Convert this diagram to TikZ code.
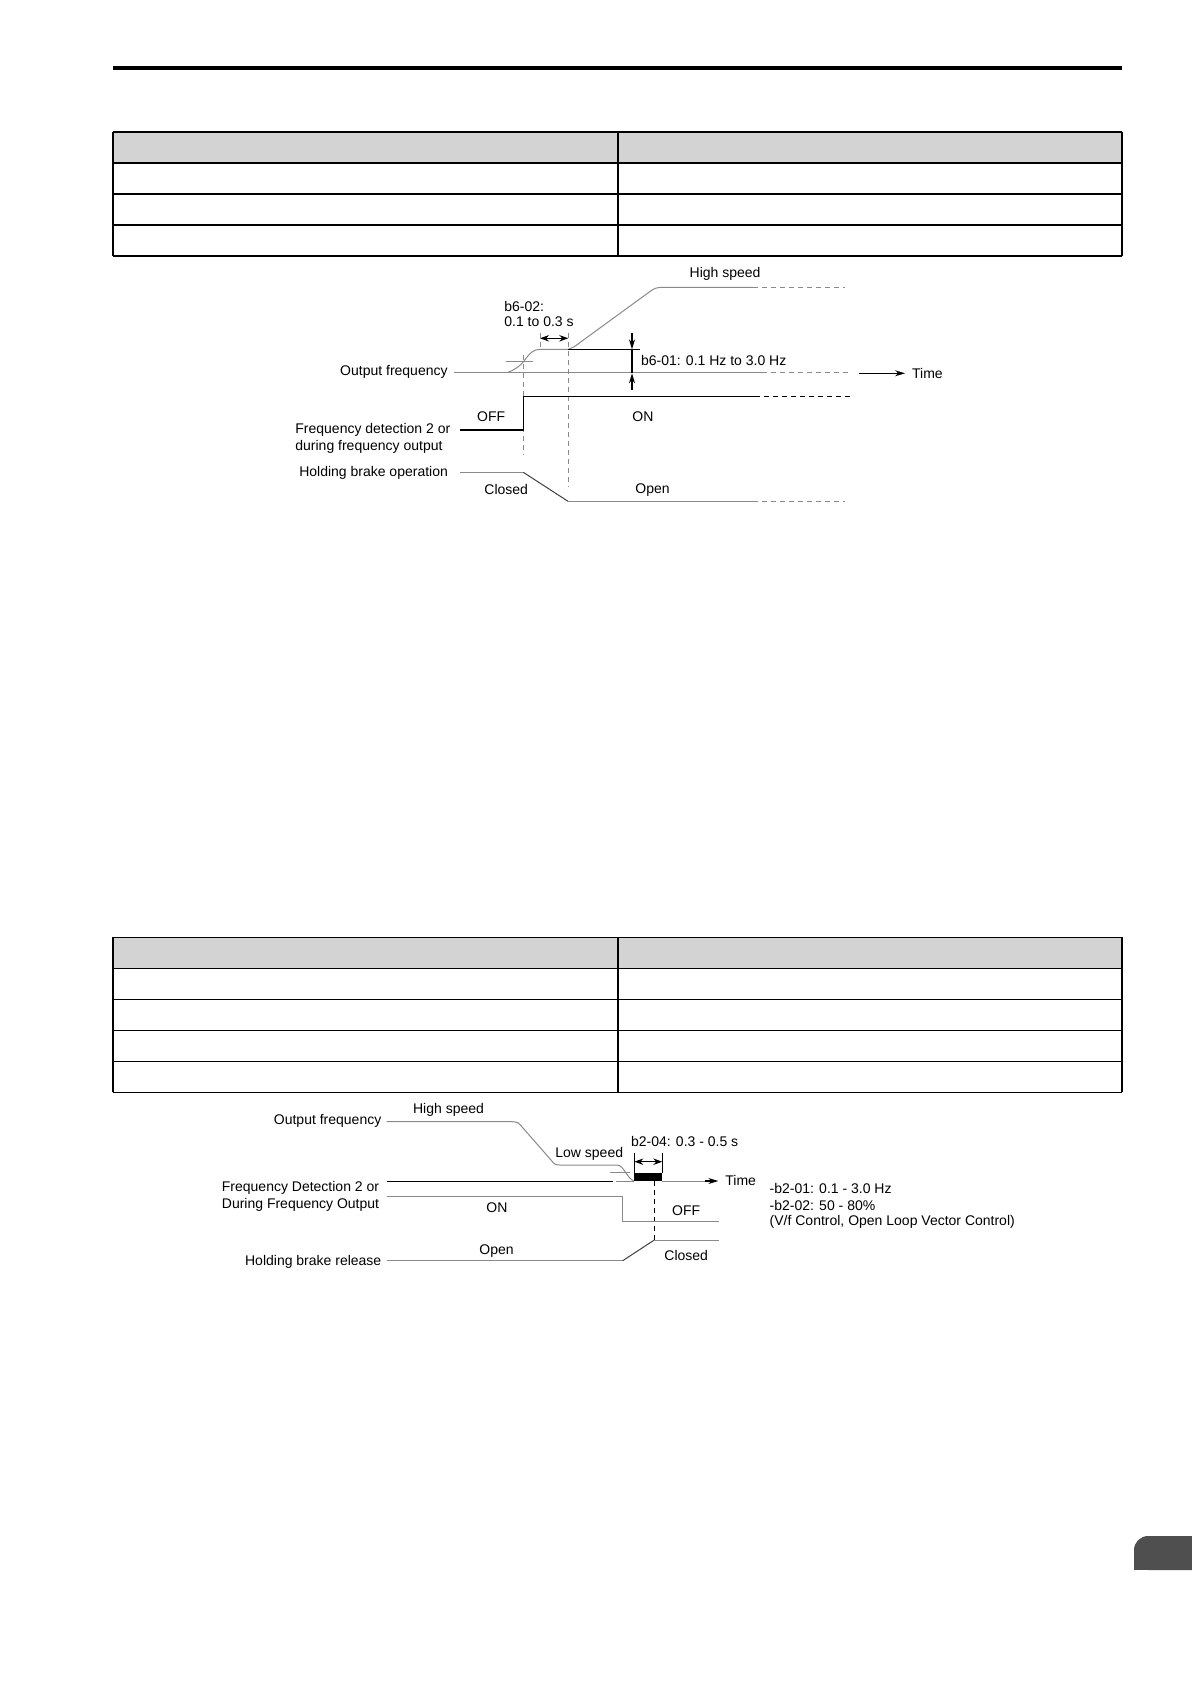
\documentclass[tikz,border=0pt]{standalone}
\usepackage{fontspec}
\setmainfont{Liberation Sans}
\usetikzlibrary{arrows.meta}
\definecolor{linegray}{HTML}{8A8A8A}
\definecolor{headgray}{HTML}{D3D3D3}
\definecolor{tabgray}{HTML}{4F4F4F}
\begin{document}
\begin{tikzpicture}[x=0.5pt,y=-0.5pt,
  lbl/.style={font=\fontsize{7pt}{8.4pt}\selectfont, inner sep=0pt},
  gl/.style={draw=linegray, line width=0.5pt},
  bl/.style={draw=black, line width=0.55pt},
  dsh/.style={dash pattern=on 2.5pt off 2pt},
  tbl/.style={draw=black, line width=0.8pt},
  tip/.style={-{Stealth[length=5pt,width=3pt]}},
  dtip/.style={{Stealth[length=4.5pt,width=3.2pt]}-{Stealth[length=4.5pt,width=3.2pt]}}]
\useasboundingbox (0,0) rectangle (1191,1684);
\fill[white] (0,0) rectangle (1191,1684);

% top rule
\fill[black] (112.7,65.7) rectangle (1122,70);

% ---------- table 1 ----------
\fill[headgray] (112.7,132.3) rectangle (1122,163.3);
\foreach \yy in {132.3,163.3,194.3,225.3,256.3}{\draw[tbl] (112.7,\yy) -- (1122,\yy);}
\foreach \xx in {112.7,618,1122}{\draw[tbl] (\xx,132.3) -- (\xx,256.3);}

% ---------- diagram 1 ----------
\node[lbl,anchor=west] (hs1) at (689.3,274.3) {High speed};
\node[lbl,anchor=west] (b602a) at (504,306) {b6-02:};
\node[lbl,anchor=west] (b602b) at (504,321.5) {0.1 to 0.3 s};
\node[lbl,anchor=west] (b601) at (640.7,360.5) {b6-01: 0.1 Hz to 3.0 Hz};
\node[lbl,anchor=west] (time1) at (911.7,373.5) {Time};
\node[lbl,anchor=east] (of1) at (448,372) {Output frequency};
\node[lbl,anchor=west] (off1) at (476.7,417) {OFF};
\node[lbl,anchor=west] (on1) at (632,417) {ON};
\node[lbl,anchor=west] (fd1a) at (295,429.8) {Frequency detection 2 or};
\node[lbl,anchor=west] (fd1b) at (295,446.6) {during frequency output};
\node[lbl,anchor=east] (hb1) at (448.3,472.8) {Holding brake operation};
\node[lbl,anchor=west] (cl1) at (484,489.8) {Closed};
\node[lbl,anchor=west] (op1) at (635,489.8) {Open};

% output frequency
\draw[gl] (454,372.7) -- (761.7,372.7);
\draw[gl,dsh] (761.7,372.7) -- (850,372.7);
\draw[gl] (506.7,372.7) .. controls (515,370) and (520,366) .. (524,361)
  .. controls (530,353) and (533,349.5) .. (540,349.3) -- (568.3,349.3)
  .. controls (574,347) .. (580,342.5) -- (650,291.5)
  .. controls (655,288) .. (662,287.3) -- (753,287.3);
\draw[gl,dsh] (753,287.3) -- (845,287.3);
\draw[gl] (506,361.7) -- (533,361.7);
\draw[bl,tip] (859,373.3) -- (905,373.3);
% dashed verticals
\draw[gl,dsh] (523.3,355) -- (523.3,455);
\draw[gl,dsh] (568.3,333) -- (568.3,487);
\draw[gl,dsh] (540,333) -- (540,349);
% b6-02 dimension
\draw[bl,dtip] (540,338.3) -- (568.3,338.3);
% b6-01 dimension
\draw[bl] (568.3,349.3) -- (640,349.3);
\draw[bl] (632,349.3) -- (632,373.3);
\draw[bl,tip] (632,333.3) -- (632,349.3);
\draw[bl,tip] (632,390) -- (632,373.3);
% frequency detection signal
\draw[bl] (460,430) -- (523.3,430) -- (523.3,396.7) -- (755,396.7);
\draw[bl,dsh] (755,396.7) -- (850,396.7);
% brake
\draw[gl] (460,472.3) -- (523.3,472.3);
\draw[draw=black!75,line width=0.5pt] (523.3,472.3) -- (568.3,501.5);
\draw[gl] (568.3,501.5) -- (753,501.5);
\draw[gl,dsh] (753,501.5) -- (845,501.5);

% ---------- table 2 ----------
\fill[headgray] (112.7,937.3) rectangle (1122,968.3);
\foreach \yy in {937.3,968.3,999.3,1030.3,1061.3,1092.3}{\draw[tbl] (112.7,\yy) -- (1122,\yy);}
\foreach \xx in {112.7,618,1122}{\draw[tbl] (\xx,937.3) -- (\xx,1092.3);}

% ---------- diagram 2 ----------
\node[lbl,anchor=east] (of2) at (381.7,1120.5) {Output frequency};
\node[lbl,anchor=west] (hs2) at (412.7,1109.5) {High speed};
\node[lbl,anchor=west] (ls2) at (555,1153.8) {Low speed};
\node[lbl,anchor=west] (b204) at (630.7,1141.8) {b2-04: 0.3 - 0.5 s};
\node[lbl,anchor=west] (time2) at (725,1180.5) {Time};
\node[lbl,anchor=west] (fd2a) at (221.5,1188) {Frequency Detection 2 or};
\node[lbl,anchor=west] (fd2b) at (221.5,1205) {During Frequency Output};
\node[lbl,anchor=west] (on2) at (486,1207.8) {ON};
\node[lbl,anchor=west] (off2) at (671.7,1210.7) {OFF};
\node[lbl,anchor=west] (op2) at (479,1251) {Open};
\node[lbl,anchor=east] (hb2) at (381.7,1261.7) {Holding brake release};
\node[lbl,anchor=west] (cl2) at (664,1255) {Closed};
\node[lbl,anchor=west] (nt1) at (769.3,1188) {-b2-01: 0.1 - 3.0 Hz};
\node[lbl,anchor=west] (nt2) at (769.3,1205) {-b2-02: 50 - 80\%};
\node[lbl,anchor=west] (nt3) at (769.3,1221.8) {(V/f Control, Open Loop Vector Control)};

% output frequency
\draw[gl] (386.7,1121.7) -- (511.7,1121.7)
  .. controls (518,1122) .. (523,1128) -- (551,1160)
  .. controls (555,1165) .. (562,1165) -- (617,1165)
  .. controls (624,1165) and (627,1179) .. (634.3,1181);
\draw[gl] (610,1172.7) -- (630,1172.7);
\draw[gl] (616,1181) -- (634.3,1181);
\draw[draw=black,line width=0.5pt] (386.7,1181) -- (613.3,1181);
% b2-04 block
\fill[black] (634.3,1172.7) rectangle (662.3,1181);
\draw[bl] (634.3,1153.3) -- (634.3,1173);
\draw[bl] (662.3,1153.3) -- (662.3,1173);
\draw[bl,dtip] (634.3,1161.7) -- (662.3,1161.7);
% time axis
\draw[gl] (662.3,1181) -- (710,1181);
\draw[bl,tip] (705,1181) -- (718.3,1181);
% dashed vertical
\draw[draw=black,dsh,line width=0.5pt] (654.3,1181) -- (654.3,1240);
% frequency detection signal
\draw[gl] (386.7,1196.7) -- (622.7,1196.7) -- (622.7,1221) -- (719,1221);
% brake
\draw[gl] (386.7,1260.7) -- (622.7,1260.7);
\draw[draw=black!75,line width=0.5pt] (622.7,1260.7) -- (654.3,1240);
\draw[gl] (654.3,1240) -- (719,1240);

% side tab
\fill[tabgray,rounded corners=7pt] (1134,1536) rectangle (1215,1570);
\fill[tabgray] (1134,1550) rectangle (1160,1570);
\end{tikzpicture}
\end{document}
